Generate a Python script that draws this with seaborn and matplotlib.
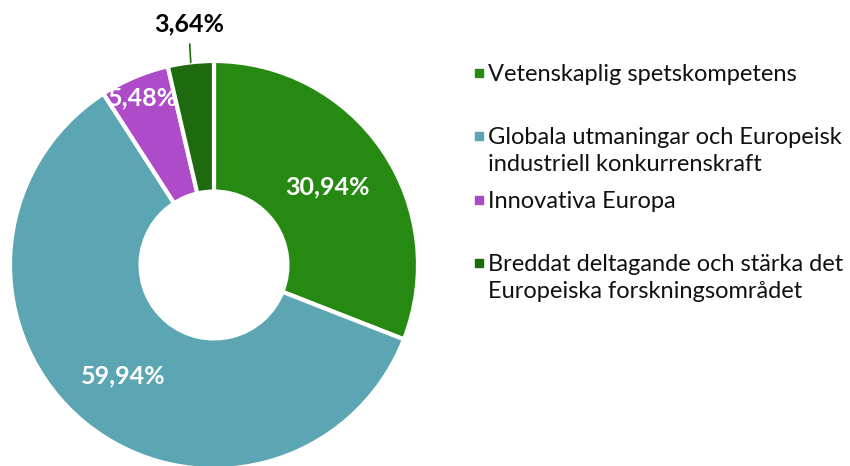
import matplotlib
matplotlib.use("Agg")
import matplotlib.pyplot as plt
import seaborn as sns
import numpy as np
from matplotlib.patches import Rectangle

categories = [
    "Vetenskaplig spetskompetens",
    "Globala utmaningar och Europeisk\nindustriell konkurrenskraft",
    "Innovativa Europa",
    "Breddat deltagande och stärka det\nEuropeiska forskningsområdet",
]
values = [30.94, 59.94, 5.48, 3.64]
pct_labels = ["30,94%", "59,94%", "5,48%", "3,64%"]
colors = ["#268A12", "#5BA6B2", "#AE4BC8", "#1D6A0F"]

sns.set_theme(style="white")
plt.rcParams["font.family"] = ["Lato", "DejaVu Sans"]
palette = sns.color_palette(colors)

W, H = 850, 466
fig = plt.figure(figsize=(W / 100, H / 100), dpi=100)
cx, cy, R = 214, 265, 204
ax = fig.add_axes([(cx - R) / W, (H - cy - R) / H, 2 * R / W, 2 * R / H])
wedges, _ = ax.pie(values, colors=palette, startangle=90, counterclock=False,
                   radius=1.0, wedgeprops=dict(width=0.64, edgecolor="white", linewidth=3))
ax.set_xlim(-1, 1)
ax.set_ylim(-1, 1)
ax.set_aspect("equal")
ax.axis("off")

cum = np.cumsum([0] + values)
dists = [0.675, 0.70, 0.89, None]
for i, (v, lab) in enumerate(zip(values, pct_labels)):
    mid = np.deg2rad(90 - (cum[i] + v / 2) / 100 * 360)
    if dists[i] is not None:
        ax.text(dists[i] * np.cos(mid), dists[i] * np.sin(mid), lab, ha="center", va="center",
                color="white", fontsize=18, fontweight="bold")
    else:
        x0, y0 = np.cos(mid) * 1.0, np.sin(mid) * 1.0
        ax.plot([x0, x0 - 0.005], [y0, y0 + 0.09], color=colors[i], lw=1.2, clip_on=False)
        ax.text(x0 - 0.01, y0 + 0.19, lab, ha="center", va="center", color="black",
                fontsize=18, fontweight="bold", clip_on=False)

ys = [73, 136, 200, 263]
for c, lab, y in zip(colors, categories, ys):
    fig.patches.append(Rectangle((475 / W, (H - y - 4) / H), 8 / W, 8 / H,
                                 transform=fig.transFigure, color=c))
    for k, line in enumerate(lab.split("\n")):
        fig.text(488 / W, (H - y - 8 - 27 * k) / H, line, ha="left", va="baseline",
                 fontsize=17, color="#111111")

fig.savefig("out.png", dpi=100)
